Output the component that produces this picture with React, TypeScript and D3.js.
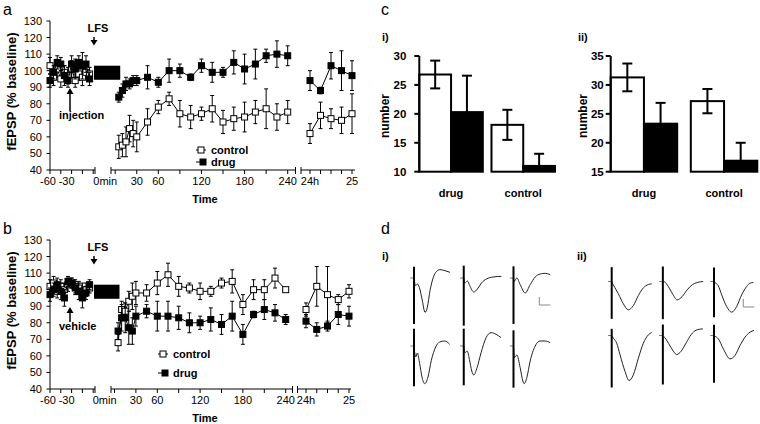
import React from 'react';
import * as d3 from 'd3';

const FONT = '"Liberation Sans", Arial, Helvetica, sans-serif';

// ---------- time-course data (panels a, b) ----------
const baselineTimes = [-60, -55, -50, -45, -40, -35, -30, -25, -20, -15, -10, -5];
const postTimes = [5, 10, 15, 20, 25, 30, 45, 60, 75, 90, 105, 120, 135, 150, 165, 180, 195, 210, 225, 240];
const dayTimes = [0, 15, 30, 45, 60];

const aCtrlPre = [103, 96, 101, 95, 99, 97, 101, 94, 98, 96, 99, 98];
const aCtrlPreErr = [5, 5, 5, 5, 4, 5, 5, 4, 4, 5, 4, 4];
const aDrugPre = [94, 99, 105, 104, 97, 94, 104, 101, 105, 103, 104, 95];
const aDrugPreErr = [4, 4, 4, 4, 6, 4, 5, 6, 4, 8, 5, 4];
const aCtrlPost = [54, 55, 57, 65, 62, 60, 69, 78, 83, 74, 72, 74, 77, 69, 71, 72, 75, 77, 72, 75];
const aCtrlPostErr = [7, 7, 9, 8, 8, 9, 8, 4, 4, 8, 7, 4, 8, 7, 7, 9, 7, 12, 8, 7];
const aDrugPost = [84, 88, 92, 92, 94, 94, 96, 93, 100, 100, 96, 103, 99, 99, 105, 101, 104, 109, 110, 109];
const aDrugPostErr = [3, 4, 4, 3, 3, 3, 7, 3, 7, 4, 2, 4, 6, 3, 7, 9, 9, 4, 8, 6];
const aCtrlDay = [62, 73, 71, 70, 74];
const aCtrlDayErr = [6, 8, 6, 8, 12];
const aDrugDay = [94, 88, 103, 100, 97];
const aDrugDayErr = [6, 2, 8, 12, 9];

const bCtrlPre = [102, 104, 99, 102, 100, 103, 104, 102, 101, 99, 100, 101];
const bCtrlPreErr = [4, 4, 4, 4, 4, 4, 3, 4, 4, 5, 4, 3];
const bDrugPre = [97, 100, 103, 99, 95, 105, 104, 101, 99, 95, 98, 103];
const bDrugPreErr = [4, 4, 4, 5, 5, 3, 3, 4, 5, 6, 4, 3];
const bCtrlPost = [68, 88, 87, 93, 96, 98, 98, 104, 109, 102, 101, 99, 99, 104, 105, 91, 100, 100, 107, 100];
const bCtrlPostErr = [5, 5, 5, 6, 8, 7, 5, 7, 7, 6, 3, 5, 3, 3, 7, 6, 6, 6, 6, 1];
const bDrugPost = [75, 83, 83, 77, 75, 84, 87, 84, 84, 83, 80, 80, 82, 79, 84, 73, 85, 88, 86, 82];
const bDrugPostErr = [5, 8, 9, 10, 8, 6, 4, 9, 9, 7, 6, 4, 7, 6, 9, 6, 2, 6, 5, 3];
const bCtrlDay = [88, 102, 97, 94, 99];
const bCtrlDayErr = [4, 12, 17, 3, 4];
const bDrugDay = [81, 76, 78, 85, 84];
const bDrugDayErr = [4, 4, 3, 6, 6];

const yTicks = [40, 50, 60, 70, 80, 90, 100, 110, 120, 130];
const preTickVals = [-60, -45, -30, -15, 0];
const preTickLabels = [[-60, '-60'], [-30, '-30']] as [number, string][];
const postTickVals = [0, 30, 60, 90, 120, 150, 180, 210, 240];
const postTickLabels = [[30, '30'], [60, '60'], [120, '120'], [180, '180'], [240, '240']] as [number, string][];
const dayTickVals = [0, 15, 30, 45, 60];
const dayTickLabels = [[0, '24h'], [60, '25']] as [number, string][];
const lfsBlock = { start: 0, end: 7, lo: 94.5, hi: 103 };

// ---------- bar data (panel c) ----------
const cGroups = ['drug', 'control'];
const cSub = ['white', 'black'];
const ciWhite = [26.8, 18.1];
const ciWhiteErr = [2.4, 2.6];
const ciBlack = [20.3, 11.0];
const ciBlackErr = [6.3, 2.1];
const ciTicks = [10, 15, 20, 25, 30];
const ciiWhite = [31.3, 27.2];
const ciiWhiteErr = [2.4, 2.1];
const ciiBlack = [23.3, 16.9];
const ciiBlackErr = [3.6, 3.1];
const ciiTicks = [15, 20, 25, 30, 35];

// ---------- trace data (panel d): [t, v] samples, artifact [top, bottom] ----------
const dI1 = [[0, 0], [5, -23], [10, -18], [16, -28], [25, -68], [33, -103], [40, -88], [48, -38], [58, 2], [68, 20], [78, 25], [93, 22], [108, 17]];
const dI2 = [[0, 0], [3, -15], [11, -9], [18, -23], [30, -42], [41, -33], [53, -15], [68, -3], [88, 3], [113, 5]];
const dI3 = [[0, 0], [2, -10], [10, 0], [20, -20], [35, -45], [50, -20], [65, 3], [80, 12], [95, 14], [110, 10]];
const dI4 = [[0, 0], [5, -33], [10, -21], [17, -53], [24, -93], [32, -113], [42, -93], [52, -43], [65, -3], [77, 12], [92, 15], [107, 5]];
const dI5 = [[0, 0], [4, -20], [10, -15], [17, -40], [24, -75], [30, -87], [40, -65], [52, -20], [67, 25], [82, 40], [97, 35], [112, 25]];
const dI6 = [[0, 0], [3, -35], [10, -27], [20, -65], [28, -105], [32, -113], [40, -95], [50, -45], [65, 0], [80, 15], [95, 15], [110, 10]];
const dII1 = [[0, 0], [3, -7], [10, -19], [20, -37], [35, -67], [50, -85], [65, -72], [80, -42], [95, -19], [110, -9], [120, -7]];
const dII2 = [[0, 0], [3, 0], [13, -10], [28, -35], [43, -55], [58, -45], [73, -25], [88, -10], [103, -3], [121, 0]];
const dII3 = [[0, 0], [3, -3], [13, -13], [23, -40], [38, -75], [53, -92], [68, -75], [83, -40], [98, -15], [108, -5], [118, -3]];
const dII4 = [[0, 0], [5, -8], [15, -23], [25, -58], [40, -108], [52, -135], [65, -118], [80, -68], [95, -23], [110, 2], [120, 9]];
const dII5 = [[0, 0], [2, -2], [10, -12], [25, -37], [42, -57], [55, -47], [70, -22], [85, 3], [100, 16], [120, 20]];
const dII6 = [[0, 0], [3, -2], [13, -10], [28, -40], [48, -70], [63, -60], [78, -30], [93, -5], [108, 10], [120, 15]];
const dIArt = [[34, -138], [37, -143], [35, -138], [52, -121], [52, -118], [47, -125]];
const dIIArt = [[43, -112], [45, -113], [42, -107], [20, -156], [33, -147], [32, -142]];

type Cfg = {
  yTop: number; yBottom: number; postRange: [number, number]; dayRange: [number, number];
  postAxisEnd: number; dayAxis: [number, number];
  ctrl: number[][]; drug: number[][];
  letter: string; note: string; legend: [number, number, number, number];
};

const sq = (x: number, y: number, filled: boolean, k: string) => (
  <rect key={k} x={x - 3} y={y - 3} width={6} height={6} fill={filled ? '#000' : '#fff'} stroke="#000" strokeWidth={1} />
);

function Series({ times, vals, errs, x, y, filled, id }: any) {
  const line = d3.line<number>().x((_, i) => x(times[i])).y((v) => y(v));
  return (
    <g>
      {vals.map((v: number, i: number) => (
        <g key={id + 'e' + i} stroke="#000" strokeWidth={1}>
          <line x1={x(times[i])} x2={x(times[i])} y1={y(v - errs[i])} y2={y(v + errs[i])} />
          <line x1={x(times[i]) - 2} x2={x(times[i]) + 2} y1={y(v - errs[i])} y2={y(v - errs[i])} />
          <line x1={x(times[i]) - 2} x2={x(times[i]) + 2} y1={y(v + errs[i])} y2={y(v + errs[i])} />
        </g>
      ))}
      <path d={line(vals) || ''} fill="none" stroke="#000" strokeWidth={1} />
      {vals.map((v: number, i: number) => sq(x(times[i]), y(v), filled, id + 'm' + i))}
    </g>
  );
}

function TimePanel({ cfg }: { cfg: Cfg }) {
  const y = d3.scaleLinear().domain([40, 130]).range([cfg.yBottom, cfg.yTop]);
  const xPre = d3.scaleLinear().domain([-60, 0]).range([50, 93.2]);
  const xPost = d3.scaleLinear().domain([0, 240]).range(cfg.postRange);
  const xDay = d3.scaleLinear().domain([0, 60]).range(cfg.dayRange);
  const ay = cfg.yBottom;
  const tk = (x: number, k: string) => <line key={k} x1={x} x2={x} y1={ay} y2={ay + 4} stroke="#000" />;
  const endTk = (x: number, k: string) => <line key={k} x1={x} x2={x} y1={ay - 3} y2={ay + 4} stroke="#000" />;
  const [c, d] = [cfg.ctrl, cfg.drug];
  const lx = cfg.legend;
  const ty = cfg.yTop;
  return (
    <g fontFamily={FONT}>
      <text x={3} y={ty - 6} fontSize={16}>{cfg.letter}</text>
      {/* y axis */}
      <line x1={50} x2={50} y1={y(130)} y2={y(40)} stroke="#000" />
      {yTicks.map((t) => (
        <g key={'y' + t}>
          <line x1={46.5} x2={50} y1={y(t)} y2={y(t)} stroke="#000" />
          <text x={42} y={y(t) + 4} fontSize={11} textAnchor="end">{t}</text>
        </g>
      ))}
      <text transform={`translate(16,${(y(130) + y(40)) / 2 - 4}) rotate(-90)`} fontSize={13} fontWeight="bold" textAnchor="middle">fEPSP (% baseline)</text>
      {/* x axis segments */}
      <line x1={50} x2={95} y1={ay} y2={ay} stroke="#000" />
      <line x1={111} x2={cfg.postAxisEnd} y1={ay} y2={ay} stroke="#000" />
      <line x1={cfg.dayAxis[0]} x2={cfg.dayAxis[1]} y1={ay} y2={ay} stroke="#000" />
      {preTickVals.map((t) => tk(xPre(t), 'pt' + t))}
      {postTickVals.map((t) => tk(xPost(t), 'qt' + t))}
      {dayTickVals.map((t) => tk(xDay(t), 'dt' + t))}
      {endTk(95, 'e1')}{endTk(111, 'e2')}{endTk(cfg.postAxisEnd, 'e3')}{endTk(cfg.dayAxis[0], 'e4')}
      {preTickLabels.map(([t, s]) => <text key={'pl' + t} x={xPre(t) - 2 - (t + 60) * 0.1} y={ay + 15} fontSize={11} textAnchor="middle">{s}</text>)}
      <text x={xPost(0) + 2} y={ay + 15} fontSize={11} textAnchor="end">0min</text>
      {postTickLabels.map(([t, s]) => <text key={'ql' + t} x={xPost(t)} y={ay + 15} fontSize={11} textAnchor="middle">{s}</text>)}
      {dayTickLabels.map(([t, s]) => <text key={'dl' + t} x={xDay(t)} y={ay + 15} fontSize={11} textAnchor="middle">{s}</text>)}
      <text x={205} y={ay + 33} fontSize={11} fontWeight="bold" textAnchor="middle">Time</text>
      {/* LFS block */}
      <rect x={xPre(lfsBlock.start) + 0.8} y={y(lfsBlock.hi)} width={xPost(lfsBlock.end) - xPre(lfsBlock.start) - 0.8} height={y(lfsBlock.lo) - y(lfsBlock.hi)} fill="#000" />
      {/* annotations */}
      <text x={98} y={ty + 11} fontSize={11} fontWeight="bold" textAnchor="middle">LFS</text>
      <line x1={94} x2={94} y1={ty + 16} y2={ty + 21} stroke="#000" strokeWidth={1.5} />
      <path d={`M${90.5},${ty + 19} L${97.5},${ty + 19} L94,${ty + 24.5} Z`} fill="#000" />
      <text x={59} y={ty + cfg.legend[3]} fontSize={11} fontWeight="bold">{cfg.note}</text>
      <line x1={70} x2={70} y1={ty + cfg.legend[3] - 8} y2={ty + 72} stroke="#000" strokeWidth={1.5} />
      <path d={`M${66.5},${ty + 73} L${73.5},${ty + 73} L70,${ty + 67} Z`} fill="#000" />
      {/* series */}
      <Series times={baselineTimes} vals={c[0]} errs={c[1]} x={xPre} y={y} filled={false} id="c0" />
      <Series times={postTimes} vals={c[2]} errs={c[3]} x={xPost} y={y} filled={false} id="c1" />
      <Series times={dayTimes} vals={c[4]} errs={c[5]} x={xDay} y={y} filled={false} id="c2" />
      <Series times={baselineTimes} vals={d[0]} errs={d[1]} x={xPre} y={y} filled={true} id="d0" />
      <Series times={postTimes} vals={d[2]} errs={d[3]} x={xPost} y={y} filled={true} id="d1" />
      <Series times={dayTimes} vals={d[4]} errs={d[5]} x={xDay} y={y} filled={true} id="d2" />
      {/* legend */}
      <line x1={lx[0] - 5} x2={lx[0] + 5} y1={lx[1]} y2={lx[1]} stroke="#000" />
      {sq(lx[0], lx[1], false, 'lg1')}
      <text x={lx[0] + 10} y={lx[1] + 4} fontSize={11} fontWeight="bold">control</text>
      <line x1={lx[0] - 5} x2={lx[0] + 2} y1={lx[2]} y2={lx[2]} stroke="#000" />
      {sq(lx[0] + 2, lx[2], true, 'lg2')}
      <text x={lx[0] + 10} y={lx[2] + 4} fontSize={11} fontWeight="bold">drug</text>
    </g>
  );
}

function BarPanel({ x0, x1, dom, ticks, white, whiteErr, black, blackErr, label, labelX, titleX, pad, labelOff }: any) {
  const y = d3.scaleLinear().domain(dom).range([171.7, 56]);
  const xg = d3.scaleBand<string>().domain(cGroups).range([x0, x1]).paddingInner(pad).paddingOuter(0);
  const xs = d3.scaleBand<string>().domain(cSub).range([0, xg.bandwidth()]);
  const eb = (cx: number, v: number, e: number, k: string) => {
    const lo = Math.max(v - e, dom[0]);
    return (
      <g key={k} stroke="#000" strokeWidth={2}>
        <line x1={cx} x2={cx} y1={y(lo)} y2={y(v + e)} />
        <line x1={cx - 5} x2={cx + 5} y1={y(v + e)} y2={y(v + e)} />
        {v - e > dom[0] && <line x1={cx - 5} x2={cx + 5} y1={y(v - e)} y2={y(v - e)} />}
      </g>
    );
  };
  return (
    <g fontFamily={FONT}>
      <text x={labelX} y={41} fontSize={11} fontWeight="bold">{label}</text>
      {cGroups.map((g, i) => {
        const gx = xg(g)!;
        const wx = gx + xs('white')!;
        const bx = gx + xs('black')!;
        const bw = xs.bandwidth();
        return (
          <g key={g}>
            <rect x={wx} y={y(white[i])} width={bw} height={y(dom[0]) - y(white[i])} fill="#fff" stroke="#000" strokeWidth={2} />
            <rect x={bx} y={y(black[i])} width={bw} height={y(dom[0]) - y(black[i])} fill="#000" stroke="#000" strokeWidth={2} />
            {eb(wx + bw / 2, white[i], whiteErr[i], g + 'w')}
            {eb(bx + bw / 2, black[i], blackErr[i], g + 'b')}
            <text x={gx + xg.bandwidth() / 2} y={197} fontSize={11} fontWeight="bold" textAnchor="middle">{g}</text>
          </g>
        );
      })}
      <line x1={x0} x2={x0} y1={y(dom[1])} y2={y(dom[0])} stroke="#000" strokeWidth={2} />
      {ticks.map((t: number) => (
        <g key={t}>
          <line x1={x0 - 5} x2={x0} y1={y(t)} y2={y(t)} stroke="#000" strokeWidth={2} />
          <text x={x0 - labelOff} y={y(t) + 4} fontSize={11.5} fontWeight="bold" textAnchor="end">{t}</text>
        </g>
      ))}
      <text transform={`translate(${titleX},116) rotate(-90)`} fontSize={12} fontWeight="bold" textAnchor="middle">number</text>
    </g>
  );
}

function TracePanel({ traces, arts, cols, rows, label, labelX, bar }: any) {
  const xc = d3.scalePoint<number>().domain([0, 1, 2]).range(cols);
  const yr = d3.scalePoint<number>().domain([0, 1]).range(rows);
  const tx = d3.scaleLinear().domain([0, 120]).range([0, 40]);
  const vy = d3.scaleLinear().domain([-150, 50]).range([50, -16.667]);
  return (
    <g fontFamily={FONT}>
      <text x={labelX} y={260} fontSize={11} fontWeight="bold">{label}</text>
      {traces.map((tr: number[][], i: number) => {
        const ox = xc(i % 3)!;
        const oy = yr(Math.floor(i / 3))!;
        const line = d3.line<number[]>().x((p) => ox + tx(p[0])).y((p) => oy + vy(p[1])).curve(d3.curveMonotoneX);
        const a = arts[i];
        return (
          <g key={i}>
            <line x1={ox + tx(-11)} x2={ox} y1={oy} y2={oy} stroke="#555" strokeWidth={0.8} />
            <path d={line(tr) || ''} fill="none" stroke="#222" strokeWidth={1} />
            <line x1={ox} x2={ox} y1={oy + vy(a[0])} y2={oy + vy(a[1])} stroke="#000" strokeWidth={2} />
          </g>
        );
      })}
      <path d={`M${bar[0]},${bar[1]} L${bar[0]},${bar[1] + 8} L${bar[0] + 11},${bar[1] + 8}`} fill="none" stroke="#888" strokeWidth={1} />
    </g>
  );
}

export default function App() {
  const aCfg: Cfg = {
    yTop: 21, yBottom: 170, postRange: [115.2, 287.7], dayRange: [310, 352], postAxisEnd: 295.5, dayAxis: [301, 355],
    ctrl: [aCtrlPre, aCtrlPreErr, aCtrlPost, aCtrlPostErr, aCtrlDay, aCtrlDayErr],
    drug: [aDrugPre, aDrugPreErr, aDrugPost, aDrugPostErr, aDrugDay, aDrugDayErr],
    letter: 'a', note: 'injection', legend: [201, 150, 162, 98],
  };
  const bCfg: Cfg = {
    yTop: 240, yBottom: 389, postRange: [114.5, 285.7], dayRange: [306, 349], postAxisEnd: 292.5, dayAxis: [297.5, 351],
    ctrl: [bCtrlPre, bCtrlPreErr, bCtrlPost, bCtrlPostErr, bCtrlDay, bCtrlDayErr],
    drug: [bDrugPre, bDrugPreErr, bDrugPost, bDrugPostErr, bDrugDay, bDrugDayErr],
    letter: 'b', note: 'vehicle', legend: [163, 354, 373, 90],
  };
  return (
    <svg width={760} height={424} style={{ position: 'absolute', left: 0, top: 0, background: '#fff' }}>
      <rect width={760} height={424} fill="#fff" />
      <TimePanel cfg={aCfg} />
      <TimePanel cfg={bCfg} />
      <text x={381} y={15} fontSize={16} fontFamily={FONT}>c</text>
      <BarPanel x0={419.3} x1={555} dom={[10, 30]} ticks={ciTicks} white={ciWhite} whiteErr={ciWhiteErr} black={ciBlack} blackErr={ciBlackErr} label="i)" labelX={382} titleX={389} pad={0.12} labelOff={13} />
      <BarPanel x0={610.7} x1={757.3} dom={[15, 35]} ticks={ciiTicks} white={ciiWhite} whiteErr={ciiWhiteErr} black={ciiBlack} blackErr={ciiBlackErr} label="ii)" labelX={578} titleX={587} pad={0.17} labelOff={7} />
      <text x={381} y={234} fontSize={16} fontFamily={FONT}>d</text>
      <TracePanel traces={[dI1, dI2, dI3, dI4, dI5, dI6]} arts={dIArt} cols={[414, 513.5]} rows={[278, 346]} label="i)" labelX={382} bar={[539.3, 297]} />
      <TracePanel traces={[dII1, dII2, dII3, dII4, dII5, dII6]} arts={dIIArt} cols={[611.7, 714]} rows={[281.5, 335.5]} label="ii)" labelX={577} bar={[743.3, 299]} />
    </svg>
  );
}
